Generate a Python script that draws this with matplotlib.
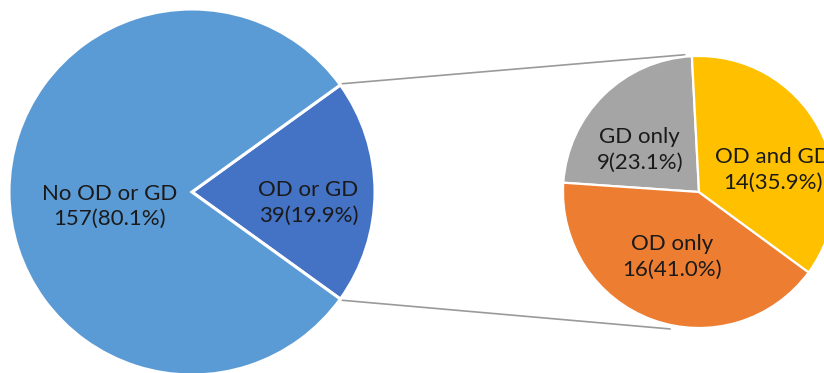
import numpy as np
import matplotlib
matplotlib.use("Agg")
import matplotlib.pyplot as plt

# main pie
main_labels = ["OD or GD", "No OD or GD"]
main_counts = [39, 157]
main_colors = ["#4472C4", "#5B9BD5"]

# breakdown of "OD or GD"
sub_labels = ["GD only", "OD only", "OD and GD"]
sub_counts = [9, 16, 14]
sub_colors = ["#A5A5A5", "#ED7D31", "#FFC000"]

W, H = 824, 373
fig = plt.figure(figsize=(W / 100, H / 100), dpi=100)
ax = fig.add_axes([0, 0, 1, 1])
ax.set_xlim(0, W)
ax.set_ylim(0, H)
ax.set_aspect("equal")
ax.axis("off")

c1, r1 = (192, 181), 183
c2, r2 = (699, 181), 136

tot1 = sum(main_counts)
start1 = -360 * main_counts[0] / tot1 / 2
w1, _ = ax.pie(main_counts, colors=main_colors, startangle=start1, counterclock=True,
               center=c1, radius=r1, frame=True,
               wedgeprops=dict(edgecolor="white", linewidth=2.2))
w2, _ = ax.pie(sub_counts, colors=sub_colors, startangle=93, counterclock=True,
               center=c2, radius=r2, frame=True,
               wedgeprops=dict(edgecolor="white", linewidth=1.6))
ax.set_xlim(0, W)
ax.set_ylim(0, H)
ax.axis("off")

font = dict(family=["Lato", "DejaVu Sans"], size=16, color="#1a1a1a",
            ha="center", va="center", linespacing=1.35)

def polar(c, r, ang):
    a = np.deg2rad(ang)
    return c[0] + r * np.cos(a), c[1] + r * np.sin(a)

# label placement (angle, fraction of radius)
main_pos = [(-5.4, 0.64), (190, 0.455)]
sub_pos = [(144.5, 0.535), (247.4, 0.52), (16.6, 0.57)]

for lab, n, (ang, f) in zip(main_labels, main_counts, main_pos):
    x, y = polar(c1, r1 * f, ang)
    ax.text(x, y, f"{lab}\n{n}({100 * n / tot1:.1f}%)", **font)

tot2 = sum(sub_counts)
for lab, n, (ang, f) in zip(sub_labels, sub_counts, sub_pos):
    x, y = polar(c2, r2 * f, ang)
    ax.text(x, y, f"{lab}\n{n}({100 * n / tot2:.1f}%)", **font)

# connector lines from the OD-or-GD wedge to the breakdown pie
t1, t2 = w1[0].theta1, w1[0].theta2
p_top = polar(c1, r1 + 2, t2)
p_bot = polar(c1, r1 + 2, t1)
q_top = polar(c2, r2 + 2, 96)
q_bot = polar(c2, r2 + 4, 258)
ax.plot([p_top[0], q_top[0]], [p_top[1], q_top[1]], color="#9a9a9a", lw=1.2, zorder=0)
ax.plot([p_bot[0], q_bot[0]], [p_bot[1], q_bot[1]], color="#9a9a9a", lw=1.2, zorder=0)

fig.savefig("out.png", dpi=100)
